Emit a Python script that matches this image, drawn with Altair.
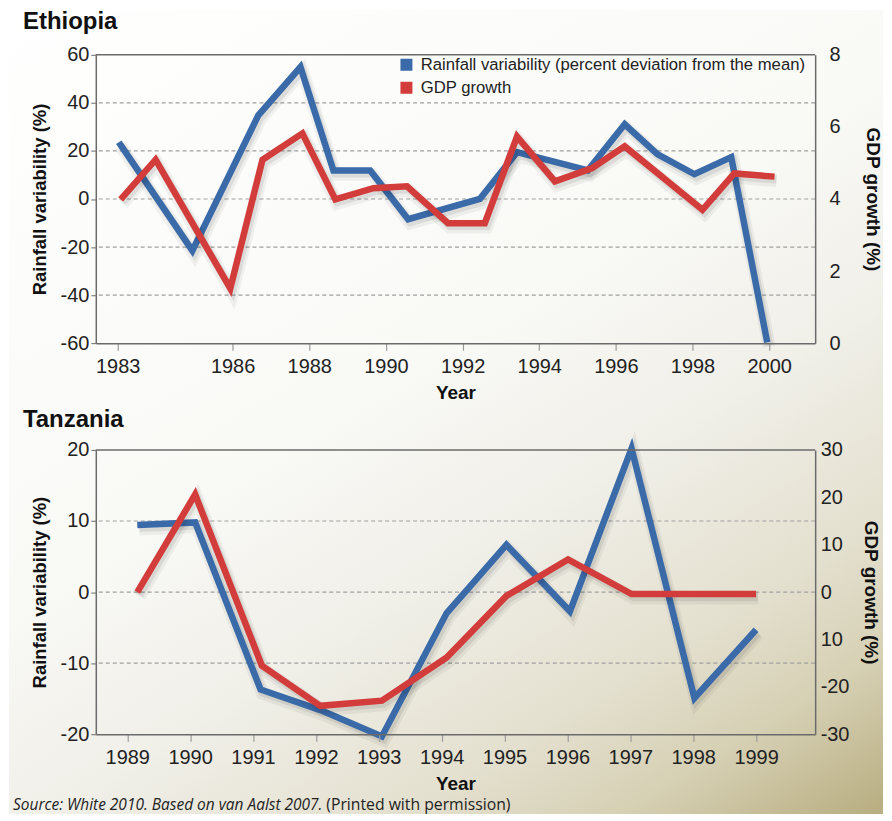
import altair as alt
import pandas as pd

# ---------------- data ----------------
RAIN = "Rainfall variability (percent deviation from the mean)"
GDP = "GDP growth"

# Ethiopia
eth_rain_year = [1983.03, 1984.95, 1986.67, 1987.77, 1988.63, 1989.59, 1990.58, 1992.45,
                 1993.42, 1995.27, 1996.23, 1997.09, 1998.05, 1999.01, 1999.95]
eth_rain_val = [23.6, -21.5, 34.8, 54.9, 11.9, 11.9, -8.4, 0.0,
                19.5, 11.9, 31.1, 18.6, 10.3, 17.4, -59.7]
eth_gdp_year = [1983.08, 1983.99, 1985.94, 1986.78, 1987.82, 1988.68, 1989.67, 1990.55,
                1991.62, 1992.58, 1993.42, 1994.41, 1995.37, 1996.23, 1998.26, 1999.09, 2000.14]
eth_gdp_val = [3.99, 5.09, 1.52, 5.09, 5.82, 3.99, 4.30, 4.35,
               3.33, 3.33, 5.73, 4.49, 4.85, 5.46, 3.70, 4.71, 4.62]
eth_year_ticks = [1983, 1986, 1988, 1990, 1992, 1994, 1996, 1998, 2000]
eth_rain_ticks = [-60, -40, -20, 0, 20, 40, 60]
eth_gdp_ticks = [0, 2, 4, 6, 8]
eth_grid = [-40, -20, 0, 20, 40]

# Tanzania
tz_rain_year = [1989.16, 1990.08, 1991.12, 1992.07, 1993.05, 1994.08, 1995.03,
                1996.04, 1997.02, 1998.02, 1999.0]
tz_rain_val = [9.45, 9.8, -13.7, -16.6, -20.3, -2.95, 6.64, -2.7, 20.2, -14.9, -5.3]
tz_gdp_year = [1989.16, 1990.08, 1991.14, 1992.07, 1993.05, 1994.08, 1995.03,
               1996.01, 1997.02, 1998.02, 1999.0]
tz_gdp_val = [0.0, 20.6, -15.5, -24.0, -22.9, -13.8, -0.8, 6.9, -0.4, -0.4, -0.4]
tz_year_ticks = [1989, 1990, 1991, 1992, 1993, 1994, 1995, 1996, 1997, 1998, 1999]
tz_rain_ticks = [-20, -10, 0, 10, 20]
tz_gdp_ticks = [-30, -20, -10, 0, 10, 20, 30]
tz_grid = [-10, 0, 10]

TITLES = ["Ethiopia", "Tanzania"]
SOURCE_ITALIC = "Source: White 2010. Based on van Aalst 2007."
SOURCE_PLAIN = "(Printed with permission)"

# ---------------- style ----------------
BLUE = "#3a6aa8"
RED = "#d23c3b"
FONT = "Liberation Sans"
DARK = "#6b6b6b"
W = 721
BG_LEFT, BG_RIGHT = -87, 789

stops = [(0, "#ffffff"), (0.45, "#f9f9f6"), (0.62, "#f0efe8"), (0.78, "#e4e0cf"),
         (0.88, "#d6d0b4"), (1, "#b8ad80")]


def grad(x1, y1, x2, y2):
    return alt.LinearGradient(
        gradient="linear",
        stops=[alt.GradientStop(offset=o, color=c) for o, c in stops],
        x1=x1, y1=y1, x2=x2, y2=y2,
    )


def panel(title, ry, rv, gy, gv, xdom, xticks, ydom, yticks, grid_vals, gdom, gticks,
          H, bg_top, bg_bot, gradient, title_y, with_legend, right_expr, right_pad,
          right_title_pad, source_y=None):
    xscale = alt.Scale(domain=xdom, nice=False, zero=False)
    yscale = alt.Scale(domain=ydom, nice=False, zero=False)
    gscale = alt.Scale(domain=gdom, nice=False, zero=False)
    xaxis = alt.Axis(values=xticks, format="d", title="Year", grid=False, zindex=1,
                     domainColor=DARK, domainWidth=1.5, tickColor="#9a9a9a", tickSize=7,
                     tickWidth=1.2, labelFontSize=20, labelColor="#222", labelPadding=6,
                     labelFlush=False, labelOverlap=False, titleFontSize=19,
                     titleFontWeight="bold", titleColor="#111", titlePadding=7, labelFont=FONT,
                     titleFont=FONT)
    yaxis = alt.Axis(values=yticks, labelExpr="'' + datum.value", title="Rainfall variability (%)",
                     grid=False, zindex=1, orient="left", domainColor=DARK, domainWidth=1.5,
                     tickColor=DARK, tickSize=5, labelFontSize=20, labelColor="#222",
                     labelPadding=2, titleFontSize=18.5, titleFontWeight="bold", titleColor="#111",
                     titlePadding=11, labelFont=FONT, titleFont=FONT)
    gaxis = alt.Axis(values=gticks, labelExpr=right_expr, title="GDP growth (%)", grid=False,
                     zindex=1, orient="right", domainColor=DARK, domainWidth=1.5, tickSize=0,
                     labelFontSize=20, labelColor="#222", labelPadding=right_pad,
                     titleFontSize=19, titleFontWeight="bold", titleColor="#111",
                     titlePadding=right_title_pad, labelFont=FONT, titleFont=FONT)

    rain_df = pd.DataFrame({"year": ry, "value": rv, "series": RAIN})
    gdp_df = pd.DataFrame({"year": gy, "value": gv, "series": GDP})

    if with_legend:
        cscale = alt.Scale(domain=[RAIN, GDP], range=[BLUE, RED])
        leg = alt.Legend(orient="none", legendX=303, legendY=2, title=None, symbolType="square",
                         symbolSize=36, symbolStrokeWidth=6, labelFontSize=16.7,
                         labelColor="#222", labelFont=FONT, labelOffset=6, rowPadding=6,
                         clipHeight=16, labelLimit=0, padding=0, symbolOpacity=1)
        rain_color = alt.Color("series:N", scale=cscale, legend=leg)
        gdp_color = alt.Color("series:N", scale=cscale, legend=leg)
    else:
        rain_color = alt.value(BLUE)
        gdp_color = alt.value(RED)

    one = pd.DataFrame({"k": [0]})
    bg = alt.Chart(one).mark_rect(fill=gradient, strokeWidth=0).encode(
        x=alt.value(BG_LEFT), x2=alt.value(BG_RIGHT), y=alt.value(bg_top), y2=alt.value(bg_bot))

    grid = alt.Chart(pd.DataFrame({"v": grid_vals})).mark_rule(
        color="#a0a0a0", strokeDash=[4, 3], strokeWidth=1.2).encode(
        y=alt.Y("v:Q", scale=yscale, axis=yaxis))

    def shadow(df, ys, ax):
        a = alt.Chart(df).mark_line(color="#000", opacity=0.05, strokeWidth=13, xOffset=2,
                                    yOffset=4, strokeJoin="miter").encode(
            x=alt.X("year:Q", scale=xscale, axis=xaxis), y=alt.Y("value:Q", scale=ys, axis=ax))
        b = alt.Chart(df).mark_line(color="#000", opacity=0.08, strokeWidth=8, xOffset=2,
                                    yOffset=3, strokeJoin="miter").encode(
            x=alt.X("year:Q", scale=xscale, axis=xaxis), y=alt.Y("value:Q", scale=ys, axis=ax))
        return [a, b]

    rain_line = alt.Chart(rain_df).mark_line(strokeWidth=6.5, strokeJoin="miter").encode(
        x=alt.X("year:Q", scale=xscale, axis=xaxis),
        y=alt.Y("value:Q", scale=yscale, axis=yaxis), color=rain_color)
    gdp_line = alt.Chart(gdp_df).mark_line(strokeWidth=6.5, strokeJoin="miter").encode(
        x=alt.X("year:Q", scale=xscale, axis=xaxis),
        y=alt.Y("value:Q", scale=gscale, axis=gaxis), color=gdp_color)

    left = alt.layer(grid, *shadow(rain_df, yscale, yaxis), rain_line)
    right = alt.layer(*shadow(gdp_df, gscale, gaxis), gdp_line)

    frame = alt.Chart(one).mark_rule(color=DARK, strokeWidth=1.5).encode(
        x=alt.value(0), x2=alt.value(W), y=alt.value(0))

    ttl = alt.Chart(pd.DataFrame({"t": [title]})).mark_text(
        align="left", baseline="middle", fontSize=24, fontWeight="bold", color="#111",
        font=FONT).encode(x=alt.value(-73), y=alt.value(title_y), text="t:N")

    extra = []
    if source_y is not None:
        extra.append(alt.Chart(pd.DataFrame({"t": [SOURCE_ITALIC]})).mark_text(
            align="left", baseline="middle", fontSize=15.5, fontStyle="italic", color="#222",
            font="Open Sans").encode(x=alt.value(-83), y=alt.value(source_y), text="t:N"))
        extra.append(alt.Chart(pd.DataFrame({"t": [SOURCE_PLAIN]})).mark_text(
            align="left", baseline="middle", fontSize=15.8, color="#222",
            font="Open Sans").encode(x=alt.value(231), y=alt.value(source_y), text="t:N"))

    return alt.layer(bg, left, right, frame, ttl, *extra).resolve_scale(
        y="independent").properties(width=W, height=H)


eth = panel(TITLES[0], eth_rain_year, eth_rain_val, eth_gdp_year, eth_gdp_val,
            [1982.43, 2001.2], eth_year_ticks, [-60, 60], eth_rain_ticks, eth_grid,
            [0, 8], eth_gdp_ticks, 289, -45, 354, grad(0, 0, 1.6173, 1.1948), -32.5, True,
            "'' + datum.value", 14, 22)

tz = panel(TITLES[1], tz_rain_year, tz_rain_val, tz_gdp_year, tz_gdp_val,
           [1988.5, 1999.94], tz_year_ticks, [-20, 20], tz_rain_ticks, tz_grid,
           [-30, 30], tz_gdp_ticks, 285, -43, 365, grad(-0.7388, 0, 0.8440, 1.2049), -30,
           False, "datum.value == -10 ? '10' : '' + datum.value", 5, 12, source_y=356)

chart = alt.vconcat(eth, tz, spacing=-3).resolve_scale(color="independent").resolve_legend(
    color="independent").properties(padding=0, background="white").configure_view(
    stroke=None).configure(font=FONT)

chart.save("out.html", embed_options={"renderer": "svg", "actions": False})
